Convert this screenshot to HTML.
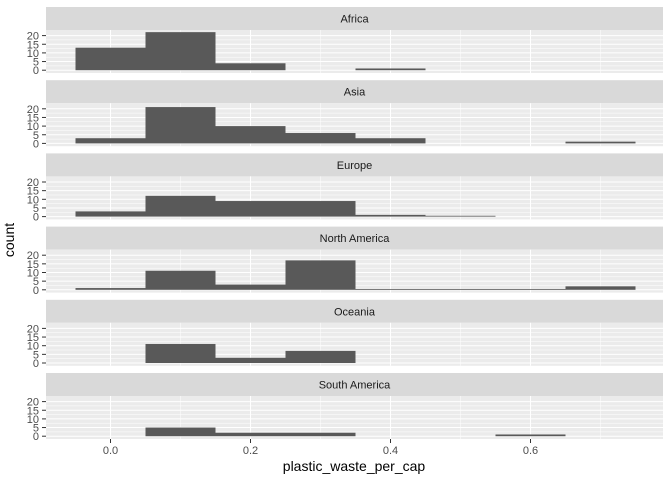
<!DOCTYPE html>
<html><head><meta charset="utf-8"><style>
body{margin:0;background:#fff;}
svg{display:block;font-family:"Liberation Sans",sans-serif;}
</style></head><body>
<svg id="c" width="672" height="480"></svg>
<script>
const facets=["Africa","Asia","Europe","North America","Oceania","South America"];
const binCenters=[0,0.1,0.2,0.3,0.4,0.5,0.6,0.7];
const countsAfrica=[13,22,4,null,1,null,null,null];
const countsAsia=[3,21,10,6,3,null,null,1];
const countsEurope=[3,12,9,9,1,0,null,null];
const countsNorthAmerica=[1,11,3,17,0,0,0,2];
const countsOceania=[null,11,3,7,null,null,null,null];
const countsSouthAmerica=[null,5,2,2,null,null,1,null];
const xTicks=[0,0.2,0.4,0.6];
const xMinor=[-0.1,0.1,0.3,0.5,0.7];
const yTicks=[0,5,10,15,20];
const yMinor=[2.5,7.5,12.5,17.5];
const allCounts=[countsAfrica,countsAsia,countsEurope,countsNorthAmerica,countsOceania,countsSouthAmerica];
const binWidth=0.1;
const NS="http://www.w3.org/2000/svg";
const svg=document.getElementById('c');
const L=46,R=663;
const x=v=>110.5+(v)*700;
function mk(t,a,p){const e=document.createElementNS(NS,t);for(const k in a)e.setAttribute(k,a[k]);(p||svg).appendChild(e);return e;}
const pitch=73.2,stripH=23,panH=43;
facets.forEach((f,i)=>{
  const top=7+i*pitch;
  const g=mk('g',{});
  
  
  const s=mk('rect',{x:L,y:top,width:R-L,height:stripH,fill:'#D9D9D9'},g);
  
  
  const st=mk('text',{x:(L+R)/2,y:top+15.5,'text-anchor':'middle','font-size':'11','fill':'#1A1A1A'},g);
  st.textContent=f;
  
  
  const pt=top+stripH, pb=pt+panH;
  const y0=pb-2.8;
  const y=v=>y0-v*1.73;
  const bg=mk('rect',{x:L,y:pt,width:R-L,height:panH,fill:'#EBEBEB'},g);
  
  
  yMinor.forEach(v=>mk('line',{x1:L,x2:R,y1:y(v),y2:y(v),stroke:'#fff','stroke-width':0.5},g));
  xMinor.forEach(v=>mk('line',{x1:x(v),x2:x(v),y1:pt,y2:pb,stroke:'#fff','stroke-width':0.5},g));
  yTicks.forEach(v=>{
    mk('line',{x1:L,x2:R,y1:y(v),y2:y(v),stroke:'#fff','stroke-width':1},g);
    mk('line',{x1:42,x2:L,y1:y(v),y2:y(v),stroke:'#333','stroke-width':1},g);
    const t=mk('text',{x:39,y:y(v)+4,'text-anchor':'end','font-size':'11',fill:'#4D4D4D'},g);
    t.textContent=v;
    
    
  });
  xTicks.forEach(v=>mk('line',{x1:x(v),x2:x(v),y1:pt,y2:pb,stroke:'#fff','stroke-width':1},g));
  allCounts[i].forEach((c,j)=>{
    if(c===null)return;
    const xl=x(binCenters[j]-binWidth/2), xr=x(binCenters[j]+binWidth/2);
    const h=Math.max(c*1.73,0.8);
    const b=mk('rect',{x:xl,y:y0-h,width:xr-xl,height:h,fill:'#595959'},g);
    
    
  });
  if(i===facets.length-1){
    xTicks.forEach(v=>{
      mk('line',{x1:x(v),x2:x(v),y1:pb,y2:pb+4,stroke:'#333','stroke-width':1});
      const t=mk('text',{x:x(v),y:pb+15,'text-anchor':'middle','font-size':'11',fill:'#4D4D4D'});
      t.textContent=v.toFixed(1);
      
      
    });
  }
});
const xt=mk('text',{x:354,y:471,'text-anchor':'middle','font-size':'14',fill:'#000'});
xt.textContent='plastic_waste_per_cap';


const yt=mk('text',{x:0,y:0,'text-anchor':'middle','font-size':'14',fill:'#000',transform:'translate(14,240) rotate(-90)'});
yt.textContent='count';


</script>
</body></html>
